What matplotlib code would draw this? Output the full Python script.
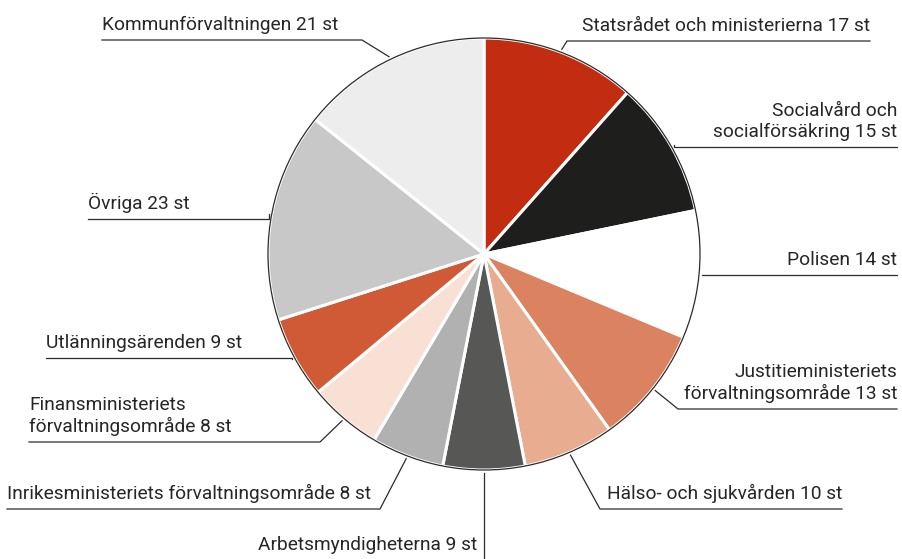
import numpy as np
import matplotlib
matplotlib.use('Agg')
import matplotlib.pyplot as plt
from matplotlib import font_manager
from matplotlib.patches import Circle

# data (clockwise from 12 o'clock)
labels = ['Statsrådet och ministerierna 17 st',
          'Socialvård och\nsocialförsäkring 15 st',
          'Polisen 14 st',
          'Justitieministeriets\nförvaltningsområde 13 st',
          'Hälso- och sjukvården 10 st',
          'Arbetsmyndigheterna 9 st',
          'Inrikesministeriets förvaltningsområde 8 st',
          'Finansministeriets\nförvaltningsområde 8 st',
          'Utlänningsärenden 9 st',
          'Övriga 23 st',
          'Kommunförvaltningen 21 st']
values = [17, 15, 14, 13, 10, 9, 8, 8, 9, 23, 21]
colors = ['#C22D12', '#1E1E1C', '#FFFFFF', '#DB8260', '#E8AD90', '#575756',
          '#B1B1B1', '#F8E0D4', '#D05A35', '#C8C8C8', '#EDEDED']

names = {f.name for f in font_manager.fontManager.ttflist}
fam = 'Liberation Sans Narrow' if 'Liberation Sans Narrow' in names else 'Roboto'
plt.rcParams['font.family'] = [fam, 'DejaVu Sans']
fs = 15.5 if fam == 'Liberation Sans Narrow' else 13.8

W, H = 902, 559
fig = plt.figure(figsize=(W / 100, H / 100), dpi=100)
ax = fig.add_axes([0, 0, 1, 1])

cx, cy_pix, r = 484, 254, 216
cy = H - cy_pix

wedges, _ = ax.pie(values, colors=colors, startangle=90, counterclock=False,
                   center=(cx, cy), radius=r, frame=True,
                   wedgeprops=dict(edgecolor='white', linewidth=2.2))
ax.set_xlim(0, W)
ax.set_ylim(0, H)
ax.set_aspect('equal')
ax.axis('off')
ax.add_patch(Circle((cx, cy), r, fill=False, edgecolor='#2b2b2b', linewidth=0.9, zorder=5))

# label layout: (line_y px, far end x, align, elbow x or None, text x)
layout = [
    (41, 870, 'right', 567, 870),
    (147, 897, 'right', None, 897),
    (275, 897, 'right', None, 897),
    (409, 897, 'right', 678, 897),
    (509, 842, 'left', 600, 607),
    (None, 477, 'right', None, 477),
    (509, 7, 'left', 380, 7),
    (442, 29, 'left', 320, 29),
    (358, 46, 'left', None, 46),
    (219, 88, 'left', None, 88),
    (40, 102, 'left', 362, 102),
]

lc = '#2b2b2b'
tc = '#262626'
for w, lab, (ly, far, ha, ex, tx) in zip(wedges, labels, layout):
    mid = np.deg2rad((w.theta1 + w.theta2) / 2)
    px = cx + (r + 3) * np.cos(mid)
    py = cy + (r + 3) * np.sin(mid)
    if ly is None:
        ax.plot([px, px], [py, 0], color=lc, lw=0.9)
        ax.text(tx, H - 550, lab, ha=ha, va='baseline', fontsize=fs, color=tc)
        continue
    y = H - ly
    if ex is None:
        ex = px
    ax.plot([px, ex, far], [py, y, y], color=lc, lw=0.9)
    ax.text(tx, y + 6, lab, ha=ha, va='bottom', fontsize=fs, color=tc,
            linespacing=1.2, multialignment=ha)

fig.savefig('out.png', dpi=100)
